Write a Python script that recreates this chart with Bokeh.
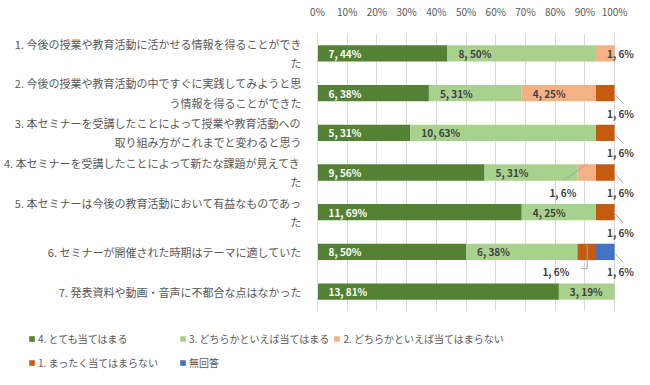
from bokeh.plotting import figure
from bokeh.layouts import column, row
from bokeh.models import (ColumnDataSource, FactorRange, Range1d, FixedTicker,
                          NumeralTickFormatter, Legend, LegendItem)
from bokeh.core.properties import value
from bokeh.embed import file_html
from bokeh.resources import INLINE

# ---------------- data ----------------
questions = [
    "1. 今後の授業や教育活動に活かせる情報を得ることができ\nた",
    "2. 今後の授業や教育活動の中ですぐに実践してみようと思\nう情報を得ることができた",
    "3. 本セミナーを受講したことによって授業や教育活動への\n取り組み方がこれまでと変わると思う",
    "4. 本セミナーを受講したことによって新たな課題が見えてき\nた",
    "5. 本セミナーは今後の教育活動において有益なものであっ\nた",
    "6. セミナーが開催された時期はテーマに適していた",
    "7. 発表資料や動画・音声に不都合な点はなかった",
]
series_names = ["4. とても当てはまる", "3. どちらかといえば当てはまる",
                "2. どちらかといえば当てはまらない", "1. まったく当てはまらない", "無回答"]
counts_4 = [7, 6, 5, 9, 11, 8, 13]
counts_3 = [8, 5, 10, 5, 4, 6, 3]
counts_2 = [1, 4, 0, 1, 0, 0, 0]
counts_1 = [0, 1, 1, 1, 1, 1, 0]
counts_na = [0, 0, 0, 0, 0, 1, 0]
x_ticks = [0, 0.1, 0.2, 0.3, 0.4, 0.5, 0.6, 0.7, 0.8, 0.9, 1.0]

# ---------------- styles ----------------
colors = ["#548235", "#A9D18E", "#F4B183", "#C55A11", "#4472C4"]
label_colors = ["#FFFFFF", "#404040", "#404040", "#404040", "#404040"]
FONT = "Noto Sans CJK JP"
TXT = "#595959"
GRID = "#D9D9D9"

W = 634
H1, H2 = 311, 58
LEFT, RIGHT, TOP, BOTTOM = 308, 0, 24, 0
PPX = 305.5                      # pixels for 100 %
X_END = (W - LEFT - RIGHT) / PPX
ROW_PX = (H1 - TOP - BOTTOM) / len(questions)

# label placement overrides (question idx, series idx) -> (dx px, dy px) ; default inside base
label_moves = {(1, 3): (11, 20), (2, 3): (11, 20), (3, 3): (11, 20), (4, 3): (11, 20),
               (5, 4): (11, 20), (3, 2): (-28, 20), (5, 3): (-35, 20)}
# leader polylines (px relative to segment start / row centre, y downwards)
leaders = {(1, 3): [(20, 2), (28, 11)], (2, 3): [(20, 2), (28, 11)],
           (3, 3): [(20, 2), (28, 11)], (4, 3): [(20, 2), (28, 11)],
           (5, 4): [(20, 2), (28, 11)], (3, 2): [(10, -9), (-14, 8)],
           (5, 3): [(10, -9), (10, 17), (4, 17)]}

all_counts = [counts_4, counts_3, counts_2, counts_1, counts_na]
totals = [sum(c[i] for c in all_counts) for i in range(len(questions))]

data = dict(q=questions)
for s, cnt in enumerate(all_counts):
    lefts, rights = [], []
    for i, q in enumerate(questions):
        start = sum(all_counts[k][i] for k in range(s)) / totals[i]
        lefts.append(start)
        rights.append(start + cnt[i] / totals[i])
    data[f"l{s}"] = lefts
    data[f"r{s}"] = rights
src = ColumnDataSource(data)

p = figure(width=W, height=H1, output_backend="svg", toolbar_location=None,
           y_range=FactorRange(factors=questions[::-1], range_padding=0, factor_padding=0),
           x_range=Range1d(0, X_END), x_axis_location="above",
           min_border_left=LEFT, min_border_right=RIGHT, min_border_top=TOP,
           min_border_bottom=BOTTOM)
p.outline_line_color = None

for s in range(5):
    p.hbar(y="q", left=f"l{s}", right=f"r{s}", height=0.41, source=src,
           fill_color=colors[s], line_color=None)

# data labels
lx, ly, lt, ldx, ldy, lc = [], [], [], [], [], []
sx0, sy0, sx1, sy1 = [], [], [], []
for s, cnt in enumerate(all_counts):
    for i, q in enumerate(questions):
        c = cnt[i]
        if c == 0:
            continue
        pct = int(100 * c / totals[i] + 0.5)
        start = data[f"l{s}"][i]
        dx, dy = label_moves.get((i, s), (11, 0))
        lx.append(start); ly.append(q); lt.append(f"{c}, {pct}%")
        ldx.append(dx); ldy.append(dy)
        lc.append(label_colors[s] if (i, s) not in label_moves else "#404040")
        if (i, s) in leaders:
            pts = leaders[(i, s)]
            for (ax, ay), (bx, by) in zip(pts[:-1], pts[1:]):
                sx0.append(start + ax / PPX); sy0.append([q, -ay / ROW_PX])
                sx1.append(start + bx / PPX); sy1.append([q, -by / ROW_PX])

p.segment(x0="x0", y0="y0", x1="x1", y1="y1",
          source=ColumnDataSource(dict(x0=sx0, y0=sy0, x1=sx1, y1=sy1)),
          line_color="#A6A6A6", line_width=1)
p.text(x="x", y="y", text="t", x_offset="dx", y_offset="dy", text_color="c",
       source=ColumnDataSource(dict(x=lx, y=ly, t=lt, dx=ldx, dy=ldy, c=lc)),
       text_font=value(FONT), text_font_size="10px", text_font_style="bold",
       text_baseline="middle", text_align="left")

# axes
xa = p.xaxis[0]
xa.ticker = FixedTicker(ticks=x_ticks)
xa.formatter = NumeralTickFormatter(format="0%")
xa.axis_line_color = None
xa.major_tick_line_color = None
xa.minor_tick_line_color = None
xa.major_label_standoff = 9
xa.major_label_text_font = FONT
xa.major_label_text_font_size = "10px"
xa.major_label_text_color = TXT

ya = p.yaxis[0]
ya.axis_line_color = GRID
ya.major_tick_line_color = None
ya.minor_tick_line_color = None
ya.major_label_standoff = 10
ya.major_label_text_font = FONT
ya.major_label_text_font_size = "11px"
ya.major_label_text_color = TXT

p.xgrid.ticker = FixedTicker(ticks=x_ticks)
p.xgrid.grid_line_color = GRID
p.ygrid.grid_line_color = None

# ---------------- legend (separate strip, hidden copies of the series) ----------------
lg = figure(width=W, height=H2, output_backend="svg", toolbar_location=None,
            min_border=0, x_axis_type=None, y_axis_type=None,
            x_range=Range1d(0, 1), y_range=FactorRange(factors=questions))
lg.grid.visible = False
lg.outline_line_color = None
items = []
for s, name in enumerate(series_names):
    r = lg.hbar(y="q", left=f"l{s}", right=f"r{s}", height=0.41, source=src,
                fill_color=colors[s], line_color=None, visible=False)
    items.append(LegendItem(label=name, renderers=[r]))
legend = Legend(items=items, orientation="horizontal", ncols=3, location=(28, -3),
                glyph_width=7, glyph_height=7, label_standoff=3, label_width=137,
                label_height=20, spacing=4, padding=0, margin=0,
                border_line_color=None, background_fill_alpha=0,
                label_text_font=FONT, label_text_font_size="10px",
                label_text_color=TXT)
lg.add_layout(legend, "center")

open("out.html", "w").write(file_html(column(p, row(lg), spacing=0), INLINE))
